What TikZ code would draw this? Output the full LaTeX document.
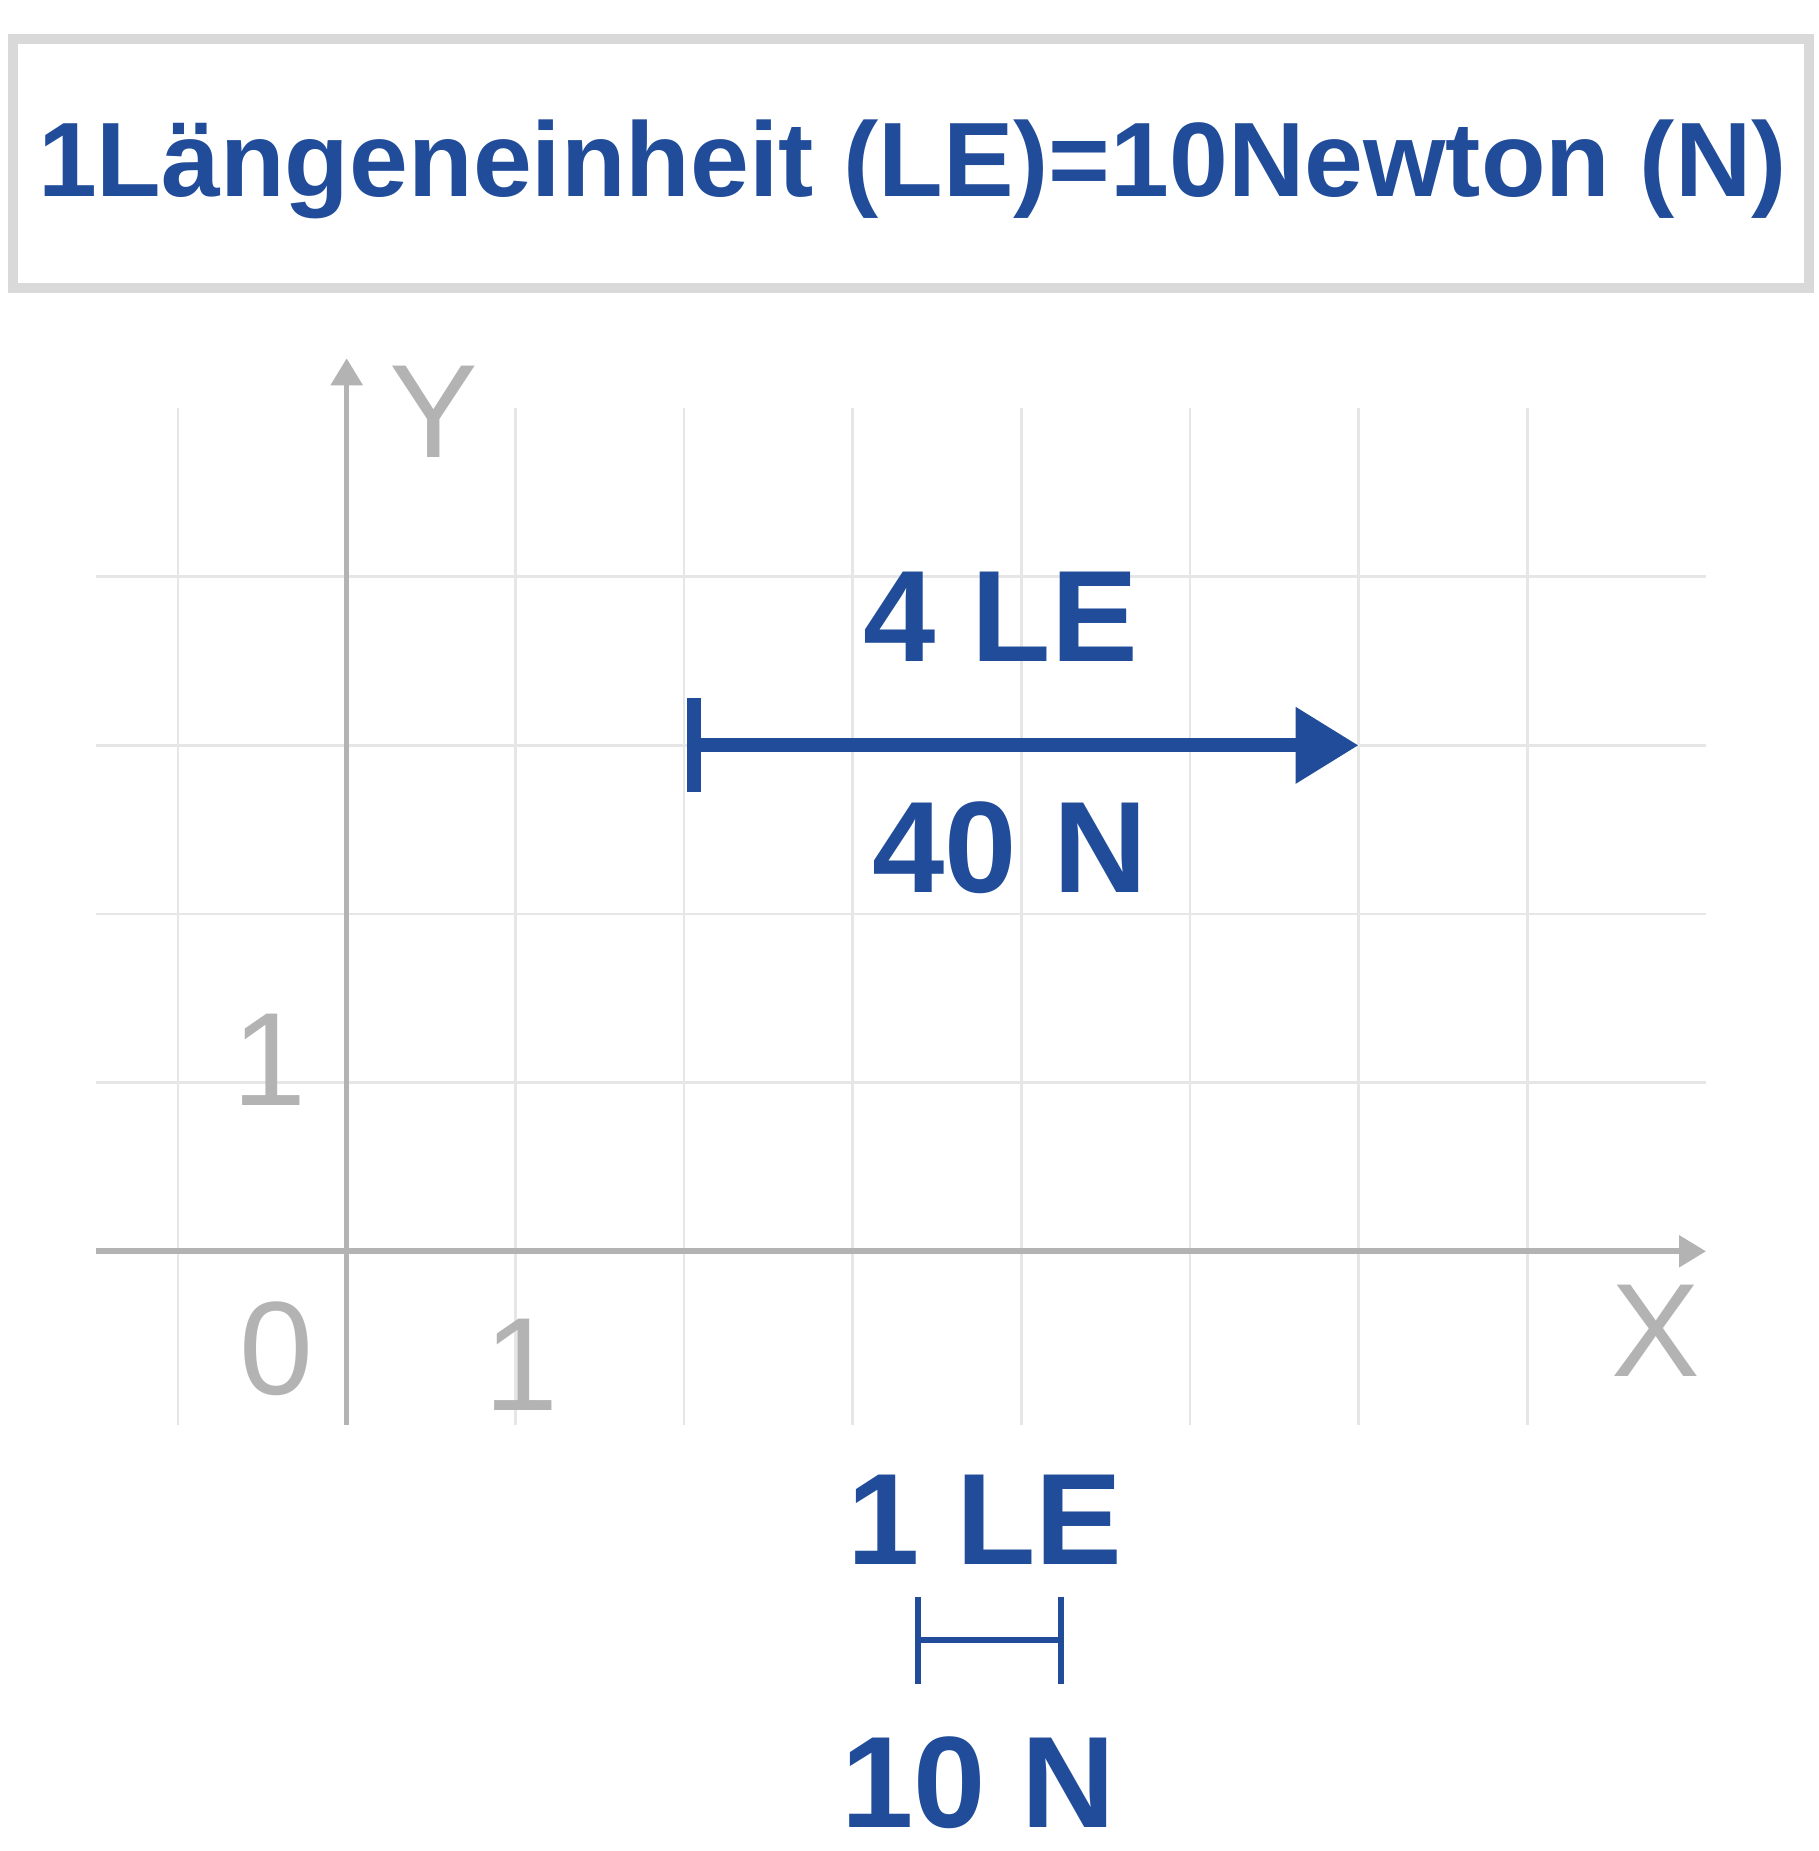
\documentclass[tikz,border=0pt]{standalone}
\usepackage{fontspec}
\setmainfont{Liberation Sans}
\usepackage{tikz}
\usetikzlibrary{arrows.meta}

\definecolor{forceblue}{RGB}{33,76,154}
\definecolor{gridgray}{RGB}{230,230,230}
\definecolor{axisgray}{RGB}{179,179,179}
\definecolor{framegray}{RGB}{217,217,217}

\begin{document}
\begin{tikzpicture}[%
  x=1.6865cm, y=1.6865cm,
  gridline/.style={draw=gridgray, line width=0.027cm},
  axisline/.style={draw=axisgray, line width=0.056cm,
    -{Triangle[length=0.27cm,width=0.31cm]}},
  axislabel/.style={text=axisgray, inner sep=0pt, anchor=base,
    font=\fontsize{37.8}{40}\selectfont},
  forcelabel/.style={text=forceblue, inner sep=0pt, anchor=base,
    font=\fontsize{37}{40}\selectfont\bfseries}
]

  \useasboundingbox (-2.0557,-3.5559) rectangle (8.724,7.4195);

  % title
  \draw[framegray, line width=0.1cm] (-1.979,5.710) rectangle (8.671,7.188);
  \node[text=forceblue, inner sep=0pt, anchor=base,
    font=\fontsize{30.1}{32}\selectfont\bfseries] (title) at (3.354,6.257)
    {1Längeneinheit (LE)=10Newton (N)};

  % grid
  \foreach \i in {-1,...,7}
    \draw[gridline] (\i,-1.027) -- (\i,5);
  \foreach \j in {1,...,4}
    \draw[gridline] (-1.486,\j) -- (8.06,\j);

  % axes
  \coordinate (xs) at (-1.486,0);
  \coordinate (xe) at (8.06,0);
  \coordinate (ys) at (0,-1.027);
  \coordinate (ye) at (0,5.295);
  \draw[axisline] (xs) -- (xe);
  \draw[axisline] (ys) -- (ye);

  \node[axislabel] (ylab) at (0.5176,4.7056) {Y};
  \node[axislabel] (xlab) at (7.762,-0.7436) {X};
  \node[axislabel] (orig) at (-0.416,-0.852) {0};
  \node[axislabel] (yone) at (-0.46,0.8669) {1};
  \node[axislabel] (xone) at (1.0377,-0.941) {1};

  % force vector
  \coordinate (F0) at (2.02,3);
  \coordinate (F1) at (6.0,3);
  \draw[forceblue, line width=0.14cm,
    {Bar[width=0.94cm]}-{Triangle[length=0.63cm,width=0.73cm]}] (F0) -- (F1);
  \node[forcelabel] (len) at (3.879,3.496) {4 LE};
  \node[forcelabel] (frc) at (3.933,2.126) {40 N};

  % scale
  \coordinate (S0) at (3.370,-2.3066);
  \coordinate (S1) at (4.253,-2.3066);
  \draw[forceblue, line width=0.06cm,
    {Bar[width=0.876cm]}-{Bar[width=0.876cm]}] (S0) -- (S1);
  \node[forcelabel] (unitlen) at (3.785,-1.860) {1 LE};
  \node[forcelabel] (unitfrc) at (3.747,-3.416) {10 N};

\end{tikzpicture}
\end{document}
